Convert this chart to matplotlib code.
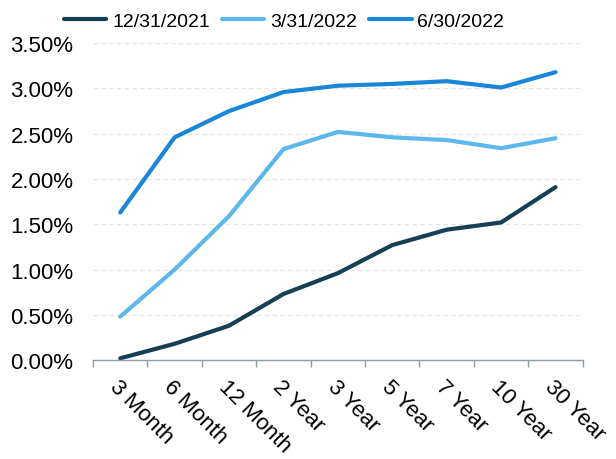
import numpy as np
import matplotlib.pyplot as plt
import matplotlib as mpl
from matplotlib.ticker import FuncFormatter, FixedLocator

plt.rc('font', **{'family': 'sans-serif', 'sans-serif': ['Liberation Sans'], 'size': 16})

# data
maturities = ['3 Month', '6 Month', '12 Month', '2 Year', '3 Year',
              '5 Year', '7 Year', '10 Year', '30 Year']
yield_dec21 = [0.02, 0.18, 0.38, 0.73, 0.96, 1.27, 1.44, 1.52, 1.91]
yield_mar22 = [0.48, 1.00, 1.59, 2.33, 2.52, 2.46, 2.43, 2.34, 2.45]
yield_jun22 = [1.63, 2.46, 2.75, 2.96, 3.03, 3.05, 3.08, 3.01, 3.18]
series_names = ['12/31/2021', '3/31/2022', '6/30/2022']

colors = ['#163f55', '#5cb8ec', '#1a86d8']

fig = plt.figure(figsize=(6.16, 4.6), dpi=100)
ax = fig.add_axes([0.151, 0.215, 0.795, 0.689])

x = np.arange(len(maturities))
for vals, name, c in zip([yield_dec21, yield_mar22, yield_jun22], series_names, colors):
    ax.plot(x, vals, color=c, linewidth=3, label=name, solid_capstyle='round')

# axes
ax.set_xlim(-0.5, len(maturities) - 0.5)
ax.set_ylim(0, 3.5)
ax.set_yticks(np.arange(0, 3.51, 0.5))
ax.yaxis.set_major_formatter(FuncFormatter(lambda v, p: '%.2f%%' % v))
ax.set_xticks(x)
ax.set_xticklabels(maturities, rotation=-45, ha='left', va='top',
                   rotation_mode='anchor')
ax.xaxis.set_minor_locator(FixedLocator(np.arange(-0.5, len(maturities), 1.0)))
ax.tick_params(axis='x', which='major', length=0, pad=11, labelsize=16)
ax.tick_params(axis='x', which='minor', length=5, color='#8a9aa6', width=1)
ax.tick_params(axis='y', length=0, pad=14, labelsize=16)

for s in ['top', 'right', 'left']:
    ax.spines[s].set_visible(False)
ax.spines['bottom'].set_color('#8a9aa6')
ax.spines['bottom'].set_linewidth(1)

ax.grid(axis='y', color='#e4e4e4', linestyle=(0, (4, 3)), linewidth=0.8)
ax.set_axisbelow(True)

ax.legend(loc='center', bbox_to_anchor=(0.39, 1.07), ncol=3, frameon=False,
          handlelength=2.2, handletextpad=0.3, columnspacing=0.6, borderaxespad=0,
          fontsize=14)

fig.savefig('out.png', dpi=100)
